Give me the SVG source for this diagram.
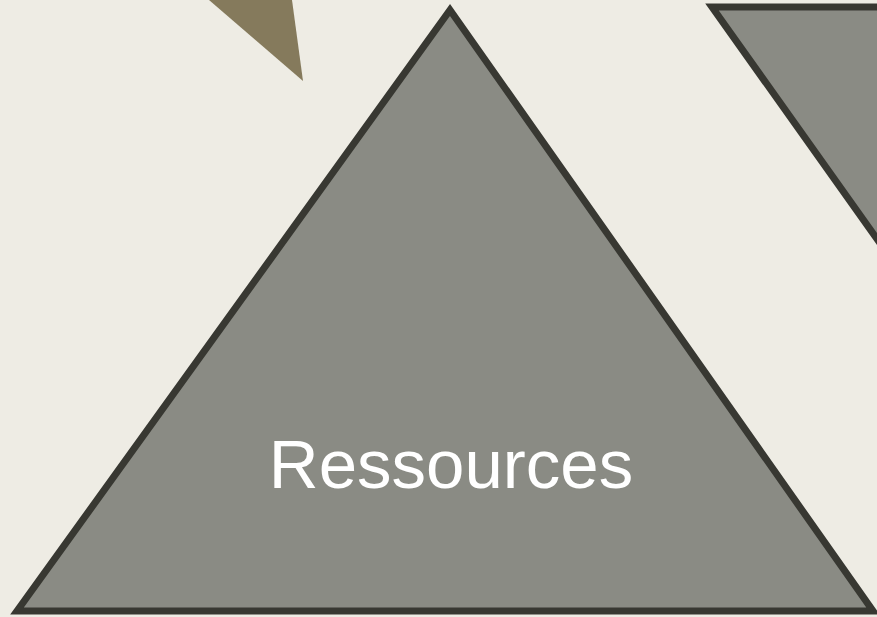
<svg xmlns="http://www.w3.org/2000/svg" width="877" height="617" viewBox="0 0 877 617">
<style>
.tri{fill:#8a8b84;stroke:#383832;stroke-width:7;stroke-linejoin:miter}
.lbl{font-family:"Liberation Sans",Arial,sans-serif;font-size:69px;fill:#ffffff;text-anchor:middle}
</style>
<rect width="877" height="617" fill="#eeece4"/>
<g id="accent">
<polygon points="209,0 292,0 303,81" fill="#857a5c"/>
</g>
<g id="right-triangle">
<polygon class="tri" points="712,7 1568,7 1140,609"/>
</g>
<g id="ressources">
<polygon class="tri" points="450,10 873,611 17,611" stroke-linejoin="round"/>
<text class="lbl" x="451" y="488">Ressources</text>
</g>
<g id="connectors"/>
</svg>
